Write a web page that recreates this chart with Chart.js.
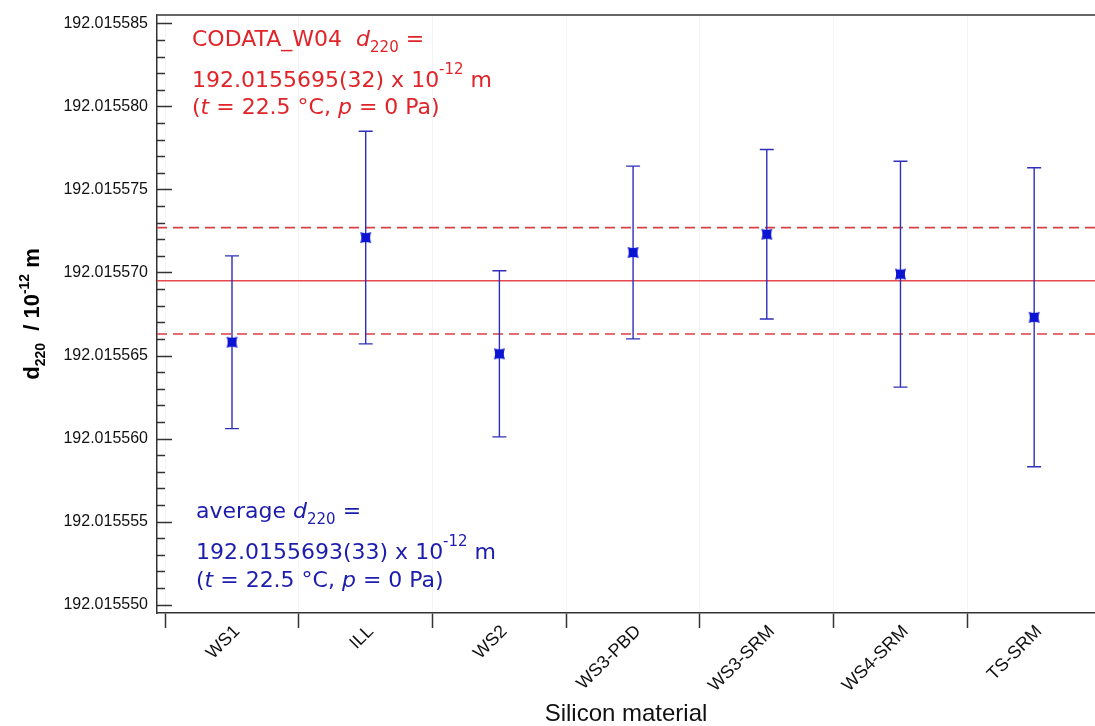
<!DOCTYPE html>
<html>
<head>
<meta charset="utf-8">
<script src="https://cdn.jsdelivr.net/npm/chart.js@4/dist/chart.umd.min.js"></script>
<style>
  body { margin: 0; background: #fff; }
  #wrap { width: 1095px; height: 726px; }
</style>
</head>
<body>
<div id="wrap"><canvas id="d220-chart" width="1095" height="726"></canvas></div>
<script>
// Silicon lattice spacing d220 per material (values in 10^-12 m)
const materials = ['WS1', 'ILL', 'WS2', 'WS3-PBD', 'WS3-SRM', 'WS4-SRM', 'TS-SRM'];
const d220 = [192.0155658, 192.0155721, 192.0155651, 192.0155712, 192.0155723, 192.0155699, 192.0155673];
const d220Unc = [0.0000052, 0.0000064, 0.0000050, 0.0000052, 0.0000051, 0.0000068, 0.0000090];
const codataValue = 192.0155695;
const codataUnc = 0.0000032;
const yTickValues = [192.015550, 192.015555, 192.015560, 192.015565, 192.015570, 192.015575, 192.015580, 192.015585];
const yMinorStep = 0.000001;

const RED = '#e0242a';
const BLUE = '#1c1cae';

// concave square marker
function makeMarker() {
    const c = document.createElement('canvas');
    c.width = 13; c.height = 13;
    const g = c.getContext('2d');
    g.fillStyle = '#0a14d2';
    g.beginPath();
    g.moveTo(1, 1);
    g.quadraticCurveTo(6.5, 3.2, 12, 1);
    g.quadraticCurveTo(9.8, 6.5, 12, 12);
    g.quadraticCurveTo(6.5, 9.8, 1, 12);
    g.quadraticCurveTo(3.2, 6.5, 1, 1);
    g.fill();
    return c;
}

function drawRich(ctx, x, y, parts, color) {
    ctx.save();
    ctx.fillStyle = color;
    ctx.textBaseline = 'alphabetic';
    ctx.textAlign = 'left';
    let cx = x;
    parts.forEach(p => {
        ctx.font = p.font;
        ctx.fillText(p.text, cx, y + (p.dy || 0));
        cx += ctx.measureText(p.text).width;
    });
    ctx.restore();
}

const F = '"DejaVu Sans", sans-serif';
const big = '22px ' + F, bigIt = 'italic 22px ' + F, small = '15px ' + F;

function noteLines(head, value) {
    return [
        head,
        [{ text: value + ' x 10', font: big }, { text: '-12', font: small, dy: -13 }, { text: ' m', font: big }],
        [{ text: '(', font: big }, { text: 't', font: bigIt }, { text: ' = 22.5 \u00b0C, ', font: big },
         { text: 'p', font: bigIt }, { text: ' = 0 Pa)', font: big }]
    ];
}

const decorPlugin = {
    id: 'decor',
    beforeDatasetDraw(chart, args) {
        if (args.index !== 0) return;
        // error bars
        const ctx = chart.ctx, xs = chart.scales.x, ys = chart.scales.y;
        ctx.save();
        ctx.strokeStyle = '#2f2fbb';
        ctx.lineWidth = 1.4;
        d220.forEach((v, i) => {
            const px = xs.getPixelForValue(i);
            const top = ys.getPixelForValue(v + d220Unc[i]);
            const bot = ys.getPixelForValue(v - d220Unc[i]);
            ctx.beginPath();
            ctx.moveTo(px, top); ctx.lineTo(px, bot);
            ctx.moveTo(px - 7, top); ctx.lineTo(px + 7, top);
            ctx.moveTo(px - 7, bot); ctx.lineTo(px + 7, bot);
            ctx.stroke();
        });
        ctx.restore();
    },
    afterDraw(chart) {
        const ctx = chart.ctx, ys = chart.scales.y, a = chart.chartArea;
        ctx.save();
        // frame top
        ctx.strokeStyle = '#666';
        ctx.lineWidth = 2;
        ctx.beginPath();
        ctx.moveTo(a.left, a.top); ctx.lineTo(a.right, a.top);
        ctx.stroke();
        // inward y ticks
        ctx.strokeStyle = '#333';
        ctx.lineWidth = 1.5;
        const lo = yTickValues[0], hi = yTickValues[yTickValues.length - 1];
        const n = Math.round((hi - lo) / yMinorStep);
        for (let k = 0; k <= n; k++) {
            const py = Math.round(ys.getPixelForValue(lo + k * yMinorStep)) + 0.5;
            const len = k % 5 === 0 ? 15 : 8;
            ctx.beginPath();
            ctx.moveTo(a.left, py); ctx.lineTo(a.left + len, py);
            ctx.stroke();
        }
        ctx.restore();

        // notes
        const red = noteLines([{ text: 'CODATA_W04  ', font: big }, { text: 'd', font: bigIt },
            { text: '220', font: small, dy: 6 }, { text: ' =', font: big }], '192.0155695(32)');
        drawRich(ctx, 192, 46, red[0], RED);
        drawRich(ctx, 192, 87, red[1], RED);
        drawRich(ctx, 192, 114, red[2], RED);
        const blue = noteLines([{ text: 'average ', font: big }, { text: 'd', font: bigIt },
            { text: '220', font: small, dy: 6 }, { text: ' =', font: big }], '192.0155693(33)');
        drawRich(ctx, 196, 518, blue[0], BLUE);
        drawRich(ctx, 196, 559, blue[1], BLUE);
        drawRich(ctx, 196, 587, blue[2], BLUE);

        // y axis title
        const tf = 'bold 22px "Liberation Sans", Arial, sans-serif';
        const ts = 'bold 14px "Liberation Sans", Arial, sans-serif';
        const parts = [{ text: 'd', font: tf }, { text: '220', font: ts, dy: 6 }, { text: '  / 10', font: tf },
            { text: '-12', font: ts, dy: -10 }, { text: ' m', font: tf }];
        let w = 0;
        parts.forEach(p => { ctx.font = p.font; w += ctx.measureText(p.text).width; });
        ctx.save();
        ctx.translate(39, (a.top + a.bottom) / 2);
        ctx.rotate(-Math.PI / 2);
        drawRich(ctx, -w / 2, 0, parts, '#000');
        ctx.restore();
    }
};

const ctx = document.getElementById('d220-chart');
new Chart(ctx, {
    type: 'scatter',
    data: {
        datasets: [
            {
                label: 'd220',
                data: d220.map((v, i) => ({ x: i, y: v })),
                pointStyle: makeMarker(),
                pointRadius: 6,
                showLine: false
            },
            {
                label: 'CODATA',
                xAxisID: 'xr',
                data: [{ x: 0, y: codataValue }, { x: 1, y: codataValue }],
                showLine: true, borderColor: '#e8484c', borderWidth: 1.6, pointRadius: 0
            },
            {
                label: 'CODATA +u',
                xAxisID: 'xr',
                data: [{ x: 0, y: codataValue + codataUnc }, { x: 1, y: codataValue + codataUnc }],
                showLine: true, borderColor: '#d84044', borderWidth: 1.6, borderDash: [10, 6], pointRadius: 0
            },
            {
                label: 'CODATA -u',
                xAxisID: 'xr',
                data: [{ x: 0, y: codataValue - codataUnc }, { x: 1, y: codataValue - codataUnc }],
                showLine: true, borderColor: '#d84044', borderWidth: 1.6, borderDash: [10, 6], pointRadius: 0
            }
        ]
    },
    options: {
        responsive: false,
        animation: false,
        layout: { autoPadding: false, padding: { left: 64, top: 15, right: 0, bottom: 0 } },
        plugins: { legend: { display: false }, tooltip: { enabled: false } },
        scales: {
            x: {
                type: 'linear',
                min: -0.561,
                max: 6.455,
                afterBuildTicks: s => { s.ticks = materials.map((m, i) => ({ value: i })); },
                afterFit: s => { s.height = 113; s.paddingLeft = 0; s.paddingRight = 0; },
                ticks: {
                    callback: v => materials[v],
                    minRotation: 45, maxRotation: 45,
                    color: '#111',
                    padding: -7,
                    labelOffset: 5,
                    font: { family: '"Liberation Sans", Arial, sans-serif', size: 18 }
                },
                grid: { offset: true, color: '#f4f4f4', tickColor: '#333', tickLength: 15, tickWidth: 1.5 },
                border: { color: '#333', width: 1.5 },
                title: {
                    display: true, text: 'Silicon material', color: '#111',
                    font: { family: '"Liberation Sans", Arial, sans-serif', size: 24, lineHeight: 1.0 },
                    padding: { top: 4, bottom: 0 }
                }
            },
            xr: { type: 'linear', min: 0, max: 1, display: false },
            y: {
                min: 192.0155495,
                max: 192.0155855,
                afterBuildTicks: s => { s.ticks = yTickValues.map(v => ({ value: v })); },
                afterFit: s => { s.width = 93; s.paddingTop = 0; s.paddingBottom = 0; },
                ticks: {
                    callback: v => v.toFixed(6),
                    color: '#111',
                    padding: 9,
                    font: { family: '"Liberation Sans", Arial, sans-serif', size: 16 }
                },
                grid: { display: false, drawTicks: false },
                border: { color: '#333', width: 1.5 }
            }
        }
    },
    plugins: [decorPlugin]
});
</script>
</body>
</html>
